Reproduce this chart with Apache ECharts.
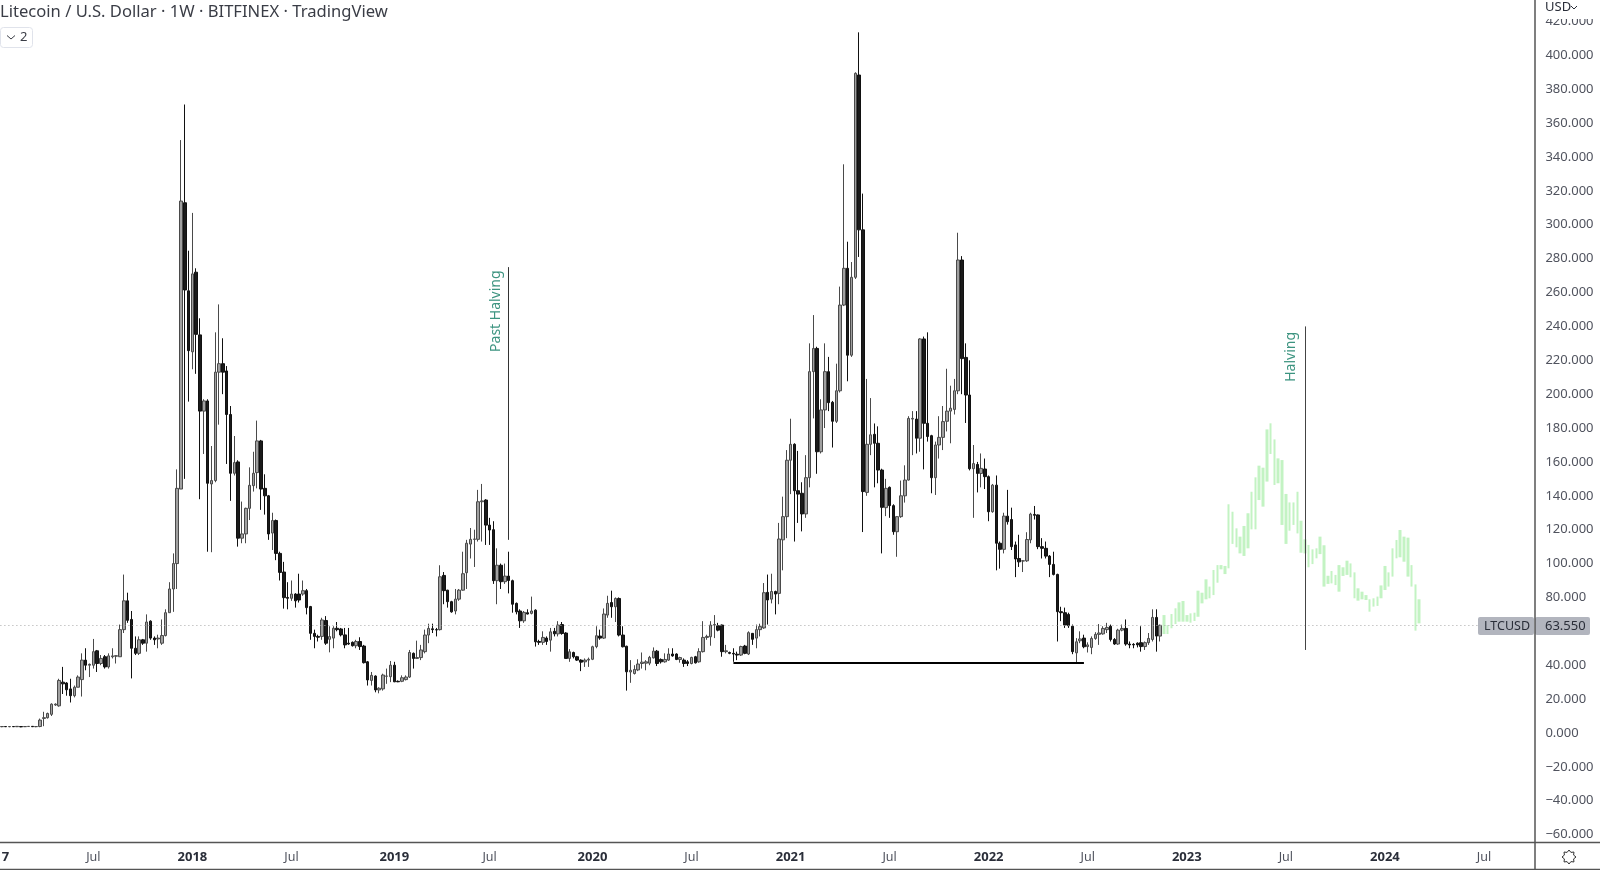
<!DOCTYPE html>
<html>
<head>
<meta charset="utf-8">
<title>LTCUSD</title>
<script src="https://cdn.jsdelivr.net/npm/echarts@6/dist/echarts.min.js"></script>
<style>
  html, body { margin: 0; padding: 0; background: #fff; overflow: hidden; }
  #chart { width: 1600px; height: 870px; filter: blur(0.5px); }
</style>
</head>
<body>
<div id="chart"></div>
<script>
// weekly bars as [open, close, low, high], first bar is the week of 2017-01-16
const candles = [
  [3.7,3.8,3.4,4.0],[3.8,3.7,3.5,3.9],[3.7,3.8,3.4,3.9],[3.8,3.7,3.5,4.0],[3.7,3.9,3.5,4.1],[3.8,3.6,3.4,3.9],[3.7,3.8,3.5,4.0],[3.8,3.9,3.6,4.1],[3.9,3.7,3.5,4.0],[3.7,3.8,3.4,3.9],
  [3.8,7.6,3.4,8.5],[8.6,9,4,12.5],[9,11.5,8.5,12],[11,17,10,17.5],[16.5,17,16,17.5],[16,31,15.5,32],[30,29,23,39],[29.5,25.5,22,30],[26,22,18,32],[22,27,21,28],
  [27,33,27,34],[31.5,43,21.5,47],[43,40,37,50],[40,40.5,33,41],[40,48,38,55.5],[48.5,41,36,49],[41,44,40,46],[45,39,38,46],[39,45.5,38,47],[45,45.5,44,50],
  [45.3,45.6,41,45.8],[45,61,45,64],[61,78,59,93.5],[78,66.5,65,82.8],[67,50,32.2,72],[50,47,46,57],[47,55,46,57],[55,53,52,55.5],[53,65.5,48,70],[66,56,55,66.5],
  [56,55,52,57],[55.5,56,50,58],[53,57.5,52,67],[57.5,71,57,73],[71,85,71,89],[85,100,71.5,106],[100,144.4,85,155.6],[144,314,144,350],[313,261.5,150,371],[261,225.7,195.6,284.7],
  [225,271,214.7,307],[272,235.3,212,274.3],[235,190,138,244.8],[190,196,164.7,197],[196,147.4,107,197],[147,149,106.7,169.4],[149,213,148,236.5],[213,218,182,253],[218,213,200,233],[213.7,188,158.8,216.6],
  [188,153.3,137,193],[153.3,159.6,152,175.3],[160,115,110,161],[115,117.5,112,136.6],[117.5,132.6,112,133],[132.6,146.2,125.7,156.8],[146,153.3,142.5,166],[153.7,172.4,144.4,184.4],[172.4,144,131.7,173],[144.4,140,128.9,152.7],
  [140,117.5,114,140.5],[118,125.4,108,130],[125.4,106,102,126],[106,94.8,90,107],[95,79.9,73.4,101],[80,79.5,73,89],[79.5,82,78,90],[82,78,74,82.5],[82,78.5,77,94],[82,84,81,90],
  [84,74,70,85],[74.6,58.8,55,75],[58.8,57,50,61],[57,56.5,54,58],[57,66.7,55,68],[66.4,53,52,69],[55.3,56.9,47.6,63],[56,61.8,50,63],[61.8,61,60,65.5],[61.4,57.9,57,62],
  [57.9,52,50,62],[53,52.5,52,62],[53.5,51.5,51,54],[51.5,54,50,55],[54,51,49,56.5],[51.3,41.5,41,52],[42,31.3,28,42.5],[31,34,28,36],[33.6,25.4,24,34],[25.4,26.4,23.4,27],
  [26,34.2,25,35],[33.5,33.6,29,38],[33.2,40,30,42.5],[40,30.2,30,42],[30.5,30.2,30,31],[30.5,32.6,30,34],[31.5,33,31,34],[33,47.5,32.5,49],[47,44,38,47.5],[44,44.5,44,54.5],
  [44.5,49,43,52],[48,57.8,47,61],[57.8,61.7,53,64.5],[61.5,61,59,64.5],[61,60.8,57,62],[61,92.2,60.5,99],[93,84,76,95],[84.3,77.5,74,84.5],[77.5,71.5,71,78],[72,79,70,85],
  [79,84.3,78,85],[84.3,94,84,107],[94.6,112,85,114],[111.5,114.3,103,121],[114.3,114.5,98,120],[114.3,136.5,113,143.5],[136.5,137,113,147],[137.5,122.7,111,138],[122.7,119.8,111,127],[120,89.9,88,125],
  [89.9,99,76,109],[99,89.3,85,100],[89.3,92.6,88,100],[92.6,90,82.4,107],[89.9,76,71,90.5],[76.5,71.5,70,77],[72,66.2,62,73],[66.2,71.2,65,72],[71,70.2,70,73],[70.6,72,70,80.5],
  [72.5,53.8,51,73],[54,53.5,52,55],[53.5,56.4,52,60],[56,54,52,57],[54.8,59.7,48,62],[60,58.5,57,62],[58.5,63.7,57,66],[64,58.7,58,65.5],[59,44,44,59.5],[44,47.9,42,49.5],
  [47.5,45,44,48],[45,43,42.5,45.5],[43,41.8,36.5,43.5],[42,43,39,44],[43,43.5,39,44.5],[43.5,50.9,43,51.5],[51,57.4,50,63],[57.2,56,55,61],[56,70.2,55.5,73.5],[69.6,76.5,68,81],
  [77,74.5,68,84],[74.5,79.4,65.5,80],[79.4,57.8,57,80],[57.8,50.9,50.5,63],[51.2,36.1,25,51.5],[36,37,29.6,43],[35.1,37.5,34.5,40],[37.2,40.7,36.5,43.5],[41,41.8,38,47.5],[41.2,42,37,43],
  [41.2,44.6,40,45.5],[44.3,48.3,44,50.5],[48.3,41,39.5,49],[43.4,42,41,44],[42,43.4,41.5,47],[43,46.6,42.5,50],[46.6,45.5,45,50],[46.6,43.4,43,47],[43.4,44.5,41.5,45],[43,41,39,44],
  [42,41,39.5,43],[41,44.6,40.5,45],[45,41.4,41,45.5],[42,48,41.5,50],[48,56.4,47.5,66],[56.4,57,55,58],[56.8,63.7,51.5,66],[63.7,64,56,69.6],[63.3,60.7,60,65],[63.7,48,45,64],
  [48,48.5,47,52],[47.5,47,46.5,48],[47,46.6,42,50],[46.5,46,43,48],[46,51,45.5,51.5],[51.3,47,46.5,52],[46.6,59.2,46,60],[58.8,55.3,52,59],[56,61,50,64],[61,62.8,57,64.5],
  [62,82.8,61.5,88.5],[83,78.5,64,93.5],[79,83.5,76.5,94],[83.5,82,70,84],[82.4,114.5,76,124],[114,127.7,96,139.5],[127.7,161,115,167],[161,170.4,141,185.5],[170.4,143,113,171],[143,141,124,166.5],
  [141.5,129.3,119,148],[129.3,150.7,127,164],[150.7,213.3,145,230],[213.3,227,185.7,246.7],[227,166,153,228],[166,190.7,165,197],[190.7,213.3,180,230],[213.3,195,190,222],[195.2,184,168.5,196],[184,202,183,218],
  [202,252.6,201,263.5],[252.6,274.3,252,335.7],[274.3,223,207.6,290],[223,269,222,278],[269,389.4,268,390],[388.4,297,281,413.6],[297,142.5,118.6,318.4],[142,170.4,140,209],[170.4,176,164,197.7],[176.3,171,145,182.7],
  [171,155.2,147.4,181],[155.2,133.2,106,156],[133,144.4,128,150],[145,134.2,127,145.5],[134.2,118.8,117,135],[118.8,127.7,104,128],[127.7,140,127,149],[140,149.3,136,158],[149.3,185.7,149,187],[185.3,185.7,164,190],
  [185.3,174,165,190],[174,232.6,166,233],[232.6,182.8,155.6,234],[182.8,175,172,236.5],[175.5,150.7,141.5,176],[150.7,170,140.5,172],[170,174.5,162,187],[174.5,183.8,167,193],[184,190,178,215],[190,191.7,171,205],
  [191,202,188,209],[202,279.2,200,295.3],[279.2,221,200,281.5],[221.7,199.5,183,230],[199.5,156,155,220],[156,159,127,170],[158.5,153.2,142,160],[153.2,156.2,145,165],[155.8,151.3,144,162],[151.3,130.6,125,152],
  [130.6,146.3,130,147],[146.3,112,96,152],[112,108.4,97,113],[108.4,128,106,130],[128,124.7,123,143.5],[126,110,108,133],[111,102.7,92,113],[103,101,98,117],[101.5,101.6,95,102],[101.6,114.2,101,118.5],
  [114,129.2,112,130],[129,128.5,126,134],[128.7,110,108.5,129],[110,109,103,115],[109,104.4,103,113],[104.4,99.5,92,105],[99.5,93.6,93,107],[93.6,71.6,54,94],[71.6,71,66,74.5],[71,63.7,62,74],
  [70,63.3,62,71],[63,48,46.5,64],[47.3,53.8,41.5,56],[54.4,55.5,53,60],[56,50.9,50,58],[51,52,47.5,53.5],[50.5,55.8,46.5,57],[55.8,58.2,55,59.5],[58.2,59,52,64.3],[58.5,61.7,58,63],
  [61,62.3,59,65],[63,55.2,54,64],[55.2,52.5,52,56],[52.5,60.7,52,61.5],[60.7,61.7,60,64],[61.7,52.5,51.5,67],[52.5,52,50,54],[52.3,52,50,53],[53,52,50.5,53.5],[53.3,51,48,63],
  [51,53.3,49,54],[53.3,55.8,52,59],[55.2,68.2,54,73],[68.2,57.2,48,73],[57.2,63.55,54,64]
];

// pale projected bars that follow the last candle, as [low, high]
const projection = [
  [58.4,69.6],[58.4,63.7],[61.8,70.2],[64.3,73.6],[65.7,77.1],[65.7,77.9],[65.7,69.6],[65.1,70.6],[66.1,71],[68.6,84],
  [76.5,82.8],[78.9,90.7],[79.5,86.4],[81.4,96.2],[88.7,99.1],[96.6,99.1],[93.8,98.6],[97.2,135],[111.6,130.6],[109.6,120.8],
  [106,115.9],[104.5,122.2],[109,129.7],[120.2,142.4],[120.2,150.9],[137.5,157.8],[133.6,156.6],[148.4,179.2],[164.7,182.8],[146.4,173.3],
  [147.4,162.1],[122.8,161.1],[111.6,141.1],[119.4,136.1],[122.8,136.1],[117.8,142.4],[106.4,125.3],[106,114.3],[97.8,111],[99.7,108.4],
  [103.1,109],[105.6,115.9],[86.4,110.8],[88,92.8],[88.3,95.6],[87.3,93.3],[83.4,99.1],[92.7,97.8],[93.3,101.7],[91.9,100.1],
  [79.5,94.8],[78.1,85.4],[78.9,83.4],[78.5,81.4],[71.6,78.9],[74.6,79.5],[75,80.5],[79.5,87.1],[84.4,98.6],[86.4,94.8],
  [92.3,109],[103.1,113.9],[103.7,119.8],[101.1,115.9],[92.3,115.3],[86.4,99.1],[60.4,87.7],[64.7,78.9]
];

const lastPrice = 63.55;
const yTicks = { min: -60, max: 420, step: 20 };
const tickWeeks = ['2017-01-02','2017-07-03','2018-01-01','2018-07-02','2019-01-07','2019-07-01','2020-01-06','2020-07-06','2021-01-04','2021-07-05','2022-01-03','2022-07-04','2023-01-02','2023-07-03','2024-01-01','2024-07-01'];
const tickNames = ['2017','Jul','2018','Jul','2019','Jul','2020','Jul','2021','Jul','2022','Jul','2023','Jul','2024','Jul'];

// axis starts two empty weeks earlier so the clipped 2017 label falls off the left edge
const weeks = [];
for (let i = 0; i < 405; i++) {
  weeks.push(new Date(Date.UTC(2017, 0, 2 + i * 7)).toISOString().slice(0, 10));
}
const pad = [['-','-','-','-'], ['-','-','-','-']];
const candleData = pad.concat(candles);
const projectionData = pad.concat(candles.map(() => ['-','-','-','-'])).concat(projection.map(b => [b[0], b[1], b[0], b[1]]));

const pastHalving = weeks[135];
const nextHalving = weeks[344];
const floorStart = weeks[194];
const floorEnd = weeks[286];

const uiFont = '"Noto Sans", sans-serif';
const gearPts = [];
for (let k = 0; k < 16; k++) {
  const a = k * Math.PI / 8, r = k % 2 ? 5 : 7;
  gearPts.push([r * Math.cos(a), r * Math.sin(a)]);
}

const chart = echarts.init(document.getElementById('chart'));
chart.setOption({
  animation: false,
  backgroundColor: '#ffffff',
  title: {
    text: 'Litecoin / U.S. Dollar · 1W · BITFINEX · TradingView',
    left: 0, top: 0, padding: [4, 0, 0, 0],
    textStyle: { fontFamily: uiFont, fontWeight: 'normal', fontSize: 16.6, color: '#3a3d46' }
  },
  grid: { left: -7.6, right: 64.6, top: 21.5, bottom: 35.4, outerBoundsMode: 'none' },
  xAxis: {
    type: 'category',
    data: weeks,
    axisLine: { show: false },
    axisTick: { show: false },
    splitLine: { show: false },
    axisLabel: {
      margin: 16,
      interval: (idx, val) => tickWeeks.includes(val),
      formatter: val => {
        const name = tickNames[tickWeeks.indexOf(val)];
        return name === 'Jul' ? '{m|Jul}' : '{y|' + name + '}';
      },
      rich: {
        m: { fontFamily: uiFont, fontSize: 12.5, color: '#50535e' },
        y: { fontFamily: uiFont, fontSize: 13, fontWeight: 'bold', color: '#2a2e39' }
      }
    }
  },
  yAxis: {
    type: 'value',
    position: 'right',
    min: yTicks.min, max: yTicks.max, interval: yTicks.step,
    axisLine: { show: false },
    axisTick: { show: false },
    splitLine: { show: false },
    axisLabel: {
      margin: 10,
      padding: [5, 0, 0, 0],
      fontFamily: uiFont, fontSize: 13, color: '#50535e',
      showMinLabel: true, showMaxLabel: true,
      formatter: v => (v < 0 ? '−' : '') + Math.abs(v).toFixed(3)
    }
  },
  series: [
    {
      name: 'LTCUSD',
      type: 'candlestick',
      data: candleData,
      barWidth: 3,
      itemStyle: { color: '#a0a0a0', color0: '#1a1a1a', borderColor: '#4a4a4a', borderColor0: '#111111', borderWidth: 1 },
      markLine: {
        silent: true, symbol: 'none', animation: false, label: { show: false },
        data: [
          { yAxis: lastPrice, lineStyle: { type: [1, 3], color: '#a8a8a8', width: 1 } },
          [{ coord: [pastHalving, 275], lineStyle: { type: 'solid', color: '#333333', width: 1 } }, { coord: [pastHalving, 114] }],
          [{ coord: [nextHalving, 240], lineStyle: { type: 'solid', color: '#444444', width: 1 } }, { coord: [nextHalving, 49] }],
          [{ coord: [floorStart, 41.7], lineStyle: { type: 'solid', color: '#000000', width: 2 } }, { coord: [floorEnd, 41.7] }]
        ]
      },
      markPoint: {
        silent: true, symbol: 'circle', symbolSize: 1, animation: false,
        itemStyle: { color: 'transparent' },
        label: { show: true, position: 'inside', rotate: 90, fontFamily: uiFont, fontSize: 14, color: '#3d9480' },
        data: [
          { coord: [pastHalving, 249], value: 'Past Halving', label: { formatter: 'Past Halving', offset: [0, -13] } },
          { coord: [nextHalving, 222], value: 'Halving', label: { formatter: 'Halving', offset: [0, -14] } }
        ]
      }
    },
    {
      name: 'Projection',
      type: 'candlestick',
      data: projectionData,
      barWidth: 3,
      itemStyle: { color: '#c3f3c3', color0: '#c3f3c3', borderColor: '#c3f3c3', borderColor0: '#c3f3c3', borderWidth: 0 }
    }
  ],
  graphic: [
    // scale frame
    { type: 'rect', z: 50, shape: { x: 1536, y: 0, width: 64, height: 19 }, style: { fill: '#ffffff' } },
    { type: 'line', z: 60, shape: { x1: 1535, y1: 0, x2: 1535, y2: 870 }, style: { stroke: '#555555', lineWidth: 1.5 } },
    { type: 'line', z: 60, shape: { x1: 0, y1: 842.5, x2: 1600, y2: 842.5 }, style: { stroke: '#555555', lineWidth: 1.5 } },
    { type: 'line', z: 60, shape: { x1: 0, y1: 869.5, x2: 1600, y2: 869.5 }, style: { stroke: '#555555', lineWidth: 1.5 } },
    { type: 'text', z: 60, x: 1545, y: 1, style: { text: 'USD', font: '13px ' + uiFont, fill: '#2a2e39' } },
    { type: 'polyline', z: 60, shape: { points: [[1571, 6], [1574, 9], [1577, 6]] }, style: { stroke: '#2a2e39', lineWidth: 1, fill: 'none' } },
    // series and price tags
    { type: 'rect', z: 55, shape: { x: 1478, y: 617, width: 56, height: 18, r: 2 }, style: { fill: '#b2b5be' } },
    { type: 'rect', z: 55, shape: { x: 1535, y: 617, width: 55, height: 18, r: 2 }, style: { fill: '#b2b5be' } },
    { type: 'text', z: 60, x: 1484, y: 620, style: { text: 'LTCUSD', font: '12.5px ' + uiFont, fill: '#2a2e39' } },
    { type: 'text', z: 60, x: 1545, y: 619.5, style: { text: '63.550', font: '13px ' + uiFont, fill: '#2a2e39' } },
    // collapsed indicators button
    { type: 'rect', z: 60, shape: { x: 0.5, y: 27.5, width: 32, height: 20, r: 3 }, style: { fill: '#ffffff', stroke: '#e0e3eb', lineWidth: 1 } },
    { type: 'polyline', z: 61, shape: { points: [[7, 35.5], [11, 39], [15, 35.5]] }, style: { stroke: '#3a3d46', lineWidth: 1, fill: 'none' } },
    { type: 'text', z: 61, x: 20, y: 30.5, style: { text: '2', font: '13px ' + uiFont, fill: '#3a3d46' } },
    // settings gear
    { type: 'polygon', z: 60, x: 1569, y: 857, shape: { points: gearPts }, style: { fill: 'none', stroke: '#333333', lineWidth: 1 } }
  ]
});
</script>
</body>
</html>
